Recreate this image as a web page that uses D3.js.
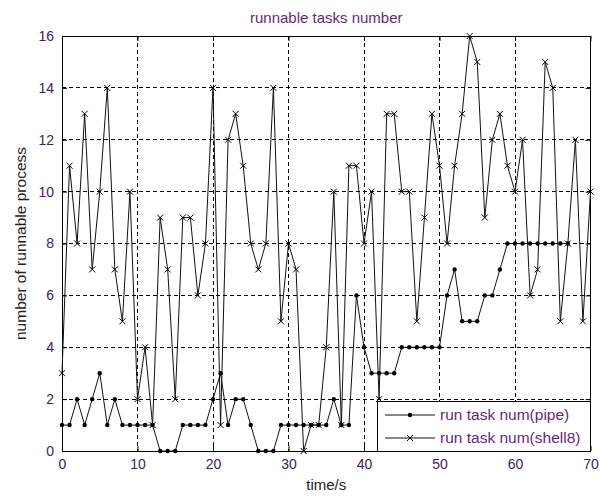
<!DOCTYPE html>
<meta charset="utf-8">
<head>
<title>runnable tasks number</title>
<style>
  body { margin: 0; background: #fff; }
  text { font-family: "Liberation Sans", Arial, sans-serif; }
</style>
</head>
<body>
<div id="chart"></div>
<script src="https://d3js.org/d3.v7.min.js"></script>
<script>

// time in seconds
var seconds = [0,1,2,3,4,5,6,7,8,9,10,11,12,13,14,15,16,17,18,19,20,21,22,23,24,25,26,27,28,29,
  30,31,32,33,34,35,36,37,38,39,40,41,42,43,44,45,46,47,48,49,50,51,52,53,54,55,56,57,58,59,
  60,61,62,63,64,65,66,67,68,69,70];

// run task num(pipe), recorded up to t = 67
var pipe = [1,1,2,1,2,3,1,2,1,1,1,1,1,0,0,0,1,1,1,1,2,3,1,2,2,1,0,0,0,1,
  1,1,1,1,1,1,2,1,1,6,4,3,3,3,3,4,4,4,4,4,4,6,7,5,5,5,6,6,7,8,
  8,8,8,8,8,8,8,8];

// run task num(shell8)
var shell8 = [3,11,8,13,7,10,14,7,5,10,2,4,1,9,7,2,9,9,6,8,14,1,12,13,11,8,7,8,14,5,
  8,7,0,1,1,4,10,1,11,11,8,10,2,13,13,10,10,5,9,13,11,8,11,13,16,15,9,12,13,11,
  10,12,6,7,15,14,5,8,12,5,10];

var xTicks = [0,10,20,30,40,50,60,70];
var yTicks = [0,2,4,6,8,10,12,14,16];
var seriesNames = ["run task num(pipe)", "run task num(shell8)"];

var W = 612, H = 498;
var plotL = 62, plotT = 36, plotR = 590.5, plotB = 451;

var svg = d3.select("#chart").append("svg")
    .attr("width", W)
    .attr("height", H);

var x = d3.scaleLinear().domain([0, 70]).range([plotL, plotR]);
var y = d3.scaleLinear().domain([0, 16]).range([plotB, plotT]);

// dashed grid
svg.append("g").selectAll("line")
  .data(xTicks.slice(1, -1))
  .enter().append("line")
    .attr("x1", function(d) { return x(d); })
    .attr("x2", function(d) { return x(d); })
    .attr("y1", plotT).attr("y2", plotB)
    .attr("stroke", "#000").attr("stroke-width", 1)
    .attr("stroke-dasharray", "4,3")
    .attr("shape-rendering", "crispEdges");
svg.append("g").selectAll("line")
  .data(yTicks.slice(1, -1))
  .enter().append("line")
    .attr("y1", function(d) { return y(d); })
    .attr("y2", function(d) { return y(d); })
    .attr("x1", plotL).attr("x2", plotR)
    .attr("stroke", "#000").attr("stroke-width", 1)
    .attr("stroke-dasharray", "4,3")
    .attr("shape-rendering", "crispEdges");

// box
svg.append("rect")
  .attr("x", plotL).attr("y", plotT)
  .attr("width", plotR - plotL).attr("height", plotB - plotT)
  .attr("fill", "none").attr("stroke", "#000").attr("stroke-width", 1)
  .attr("shape-rendering", "crispEdges");

// axes with inside ticks
var tickColor = "#40205a";
function styleAxis(g) {
  g.select(".domain").remove();
  g.selectAll(".tick line").attr("stroke", "#000");
  g.selectAll(".tick text")
    .attr("fill", tickColor)
    .style("font-size", "14px")
    .style("font-family", "'Liberation Sans', Arial, sans-serif");
}
svg.append("g")
  .attr("transform", "translate(0," + plotB + ")")
  .call(d3.axisBottom(x).tickValues(xTicks).tickSize(-5).tickPadding(8))
  .call(styleAxis);
svg.append("g")
  .attr("transform", "translate(0," + plotT + ")")
  .call(d3.axisTop(x).tickValues(xTicks).tickSize(-5).tickFormat(""))
  .call(styleAxis);
svg.append("g")
  .attr("transform", "translate(" + plotL + ",0)")
  .call(d3.axisLeft(y).tickValues(yTicks).tickSize(-5).tickPadding(8))
  .call(styleAxis);
svg.append("g")
  .attr("transform", "translate(" + plotR + ",0)")
  .call(d3.axisRight(y).tickValues(yTicks).tickSize(-5).tickFormat(""))
  .call(styleAxis);

// lines
var line = d3.line()
  .x(function(d, i) { return x(seconds[i]); })
  .y(function(d) { return y(d); });

svg.append("path")
  .datum(pipe)
  .attr("fill", "none").attr("stroke", "#111").attr("stroke-width", 1)
  .attr("d", line);
svg.append("path")
  .datum(shell8)
  .attr("fill", "none").attr("stroke", "#111").attr("stroke-width", 1)
  .attr("d", line);

function dot(g) {
  g.append("circle").attr("r", 2.2).attr("fill", "#000");
}
function cross(g) {
  g.append("path").attr("d", "M-3,-3L3,3M-3,3L3,-3")
    .attr("stroke", "#000").attr("stroke-width", 1).attr("fill", "none");
}

svg.append("g").selectAll("g")
  .data(pipe)
  .enter().append("g")
    .attr("transform", function(d, i) { return "translate(" + x(seconds[i]) + "," + y(d) + ")"; })
    .each(function() { dot(d3.select(this)); });
svg.append("g").selectAll("g")
  .data(shell8)
  .enter().append("g")
    .attr("transform", function(d, i) { return "translate(" + x(seconds[i]) + "," + y(d) + ")"; })
    .each(function() { cross(d3.select(this)); });

// legend
var lg = svg.append("g");
lg.append("rect")
  .attr("x", 377).attr("y", 401)
  .attr("width", plotR - 377).attr("height", plotB - 401)
  .attr("fill", "#fff").attr("stroke", "#000").attr("stroke-width", 1)
  .attr("shape-rendering", "crispEdges");
var rows = [415, 438];
seriesNames.forEach(function(name, i) {
  lg.append("line")
    .attr("x1", 385).attr("x2", 435)
    .attr("y1", rows[i]).attr("y2", rows[i])
    .attr("stroke", "#111").attr("stroke-width", 1);
  var m = lg.append("g").attr("transform", "translate(410," + rows[i] + ")");
  if (i === 0) dot(m); else cross(m);
  lg.append("text")
    .attr("x", 440).attr("y", rows[i] + 5)
    .attr("fill", "#6b1f7b")
    .style("font-size", "15.5px")
    .text(name);
});

// title and labels
svg.append("text")
  .attr("x", (plotL + plotR) / 2).attr("y", 23)
  .attr("text-anchor", "middle")
  .attr("fill", "#6b1f7b")
  .style("font-size", "15px")
  .text("runnable tasks number");

svg.append("text")
  .attr("x", (plotL + plotR) / 2).attr("y", 490)
  .attr("text-anchor", "middle")
  .attr("fill", "#222")
  .style("font-size", "15px")
  .text("time/s");

svg.append("text")
  .attr("transform", "translate(26," + ((plotT + plotB) / 2) + ") rotate(-90)")
  .attr("text-anchor", "middle")
  .attr("fill", "#222")
  .style("font-size", "15.5px")
  .text("number of runnable process");

</script>
</body>
